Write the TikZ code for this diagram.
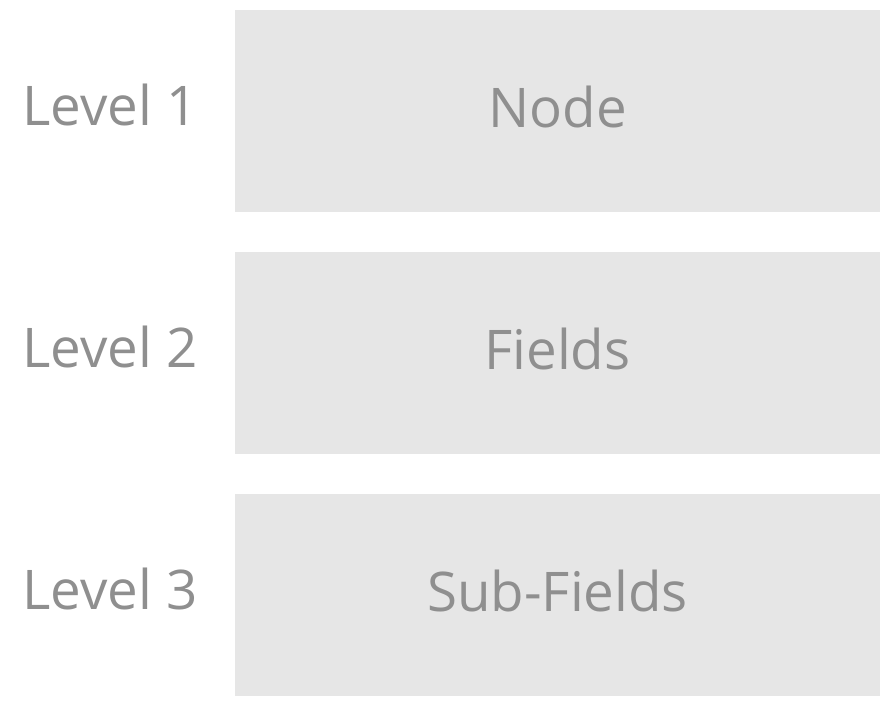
\documentclass[tikz,border=0pt]{standalone}
\usepackage{fontspec}
\setmainfont{Open Sans}
\definecolor{boxgray}{HTML}{E6E6E6}
\definecolor{textgray}{HTML}{8F8F8F}
\tikzset{
  levelbox/.style={fill=boxgray, draw=none, inner sep=0pt, minimum width=483.75pt, minimum height=151.5pt, text depth=6pt, text=textgray, font=\fontsize{41}{48}\selectfont},
  levellabel/.style={anchor=west, inner sep=0pt, text=textgray, font=\fontsize{41}{48}\selectfont}
}
\begin{document}
\begin{tikzpicture}[x=0.75pt,y=0.75pt,yscale=-1,xscale=1]
\useasboundingbox (0,0) rectangle (890,704);

%Shape: Rectangle [id:box1]
\node [levelbox] (node) at (557.5,111) {Node};
%Shape: Rectangle [id:box2]
\node [levelbox] (fields) at (557.5,353) {Fields};
%Shape: Rectangle [id:box3]
\node [levelbox] (subfields) at (557.5,595) {Sub-Fields};

%Text nodes
\node [levellabel] (level1) at (22,105) {Level 1};
\node [levellabel] (level2) at (22,347) {Level 2};
\node [levellabel] (level3) at (22,589) {Level 3};

\end{tikzpicture}
\end{document}
